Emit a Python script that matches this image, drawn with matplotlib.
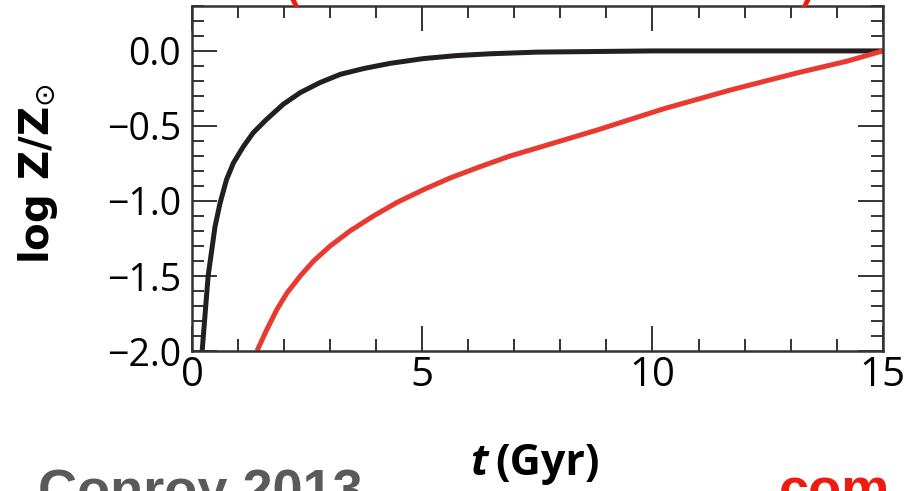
#!/usr/bin/env python
# -*- coding: utf-8 -*-
"""Metallicity evolution: log Z/Zsun vs t (Gyr), two models."""
import matplotlib
matplotlib.use("Agg")
import matplotlib.pyplot as plt
from matplotlib.ticker import MultipleLocator

# ---------------------------------------------------------------------
# Data
# ---------------------------------------------------------------------
black_t = [0.22, 0.35, 0.5, 0.61, 0.75, 0.90, 1.12, 1.33, 1.62, 1.98, 2.35,
           2.78, 3.22, 3.72, 4.3, 5.03, 5.75, 6.48, 7.5, 10.0, 15.0]
black_logz = [-2.0, -1.50, -1.17, -1.013, -0.857, -0.746, -0.635, -0.545, -0.456,
              -0.356, -0.278, -0.211, -0.156, -0.118, -0.083, -0.051, -0.031,
              -0.019, -0.008, 0.0, 0.0]

red_t = [1.41, 1.62, 1.84, 2.06, 2.35, 2.64, 3.0, 3.43, 3.94, 4.45, 5.03, 5.61,
         6.26, 6.91, 7.57, 8.8, 10.25, 11.7, 13.15, 14.23, 15.0]
red_logz = [-2.0, -1.86, -1.725, -1.614, -1.50, -1.40, -1.30, -1.20, -1.10, -1.01,
            -0.924, -0.846, -0.771, -0.700, -0.640, -0.527, -0.385, -0.260,
            -0.146, -0.068, 0.0]

x_ticks = [0, 5, 10, 15]
y_ticks = [0.0, -0.5, -1.0, -1.5, -2.0]
y_ticklabels = ["0.0", "\u22120.5", "\u22121.0", "\u22121.5", "\u22122.0"]

# ---------------------------------------------------------------------
# Figure
# ---------------------------------------------------------------------
plt.rcParams["font.family"] = ["Open Sans", "DejaVu Sans"]
plt.rcParams["mathtext.fontset"] = "dejavusans"

fig = plt.figure(figsize=(9.1, 4.91), dpi=100)
ax = fig.add_axes([0.211, 0.285, 0.759, 0.703])

ax.plot(black_t, black_logz, color="#231f20", lw=3.6, solid_capstyle="butt")
ax.plot(red_t, red_logz, color="#e83a30", lw=3.6, solid_capstyle="butt")

ax.set_xlim(0, 15)
ax.set_ylim(-2.0, 0.3)
ax.set_xticks(x_ticks)
ax.set_xticklabels([str(v) for v in x_ticks])
ax.set_yticks(y_ticks)
ax.set_yticklabels(y_ticklabels)
ax.xaxis.set_minor_locator(MultipleLocator(1))
ax.yaxis.set_minor_locator(MultipleLocator(0.1))

ax.tick_params(which="both", direction="in", top=True, right=True,
               color="#333333", width=1.4)
ax.tick_params(which="major", length=18)
ax.tick_params(which="minor", length=8.5)
ax.tick_params(axis="y", labelsize=27, pad=8)
ax.tick_params(axis="x", labelsize=29, pad=3)
for s in ax.spines.values():
    s.set_linewidth(1.8)
    s.set_color("#333333")

# y label
fig.text(0.042, 1 - 174 / 491, r"log Z/Z$_{\odot}$", rotation=90, fontsize=29,
         fontweight="bold", family=["DejaVu Sans"], ha="center", va="center")

# x label: italic bold t followed by bold (Gyr)
fig.text(0.536, 0.055, "t", fontsize=31, fontweight="bold", style="italic",
         ha="right", va="center")
fig.text(0.544, 0.055, "(Gyr)", fontsize=31, fontweight="bold",
         ha="left", va="center")

# cut-off texts around the panel
fig.text(0.322, 1.02, "(", color="#ee1c0e", fontsize=30, fontweight="bold",
         ha="center", va="center")
fig.text(0.887, 1.02, ")", color="#ee1c0e", fontsize=30, fontweight="bold",
         ha="center", va="center")
fig.text(0.042, -0.032, "Conroy 2013", color="#5a5a5a", fontsize=39,
         fontweight="bold", family="Liberation Sans", ha="left", va="baseline")
fig.text(0.856, -0.032, "com", color="#ee1c0e", fontsize=39,
         fontweight="bold", family="Liberation Sans", ha="left", va="baseline")

fig.savefig("out.png", dpi=100)
